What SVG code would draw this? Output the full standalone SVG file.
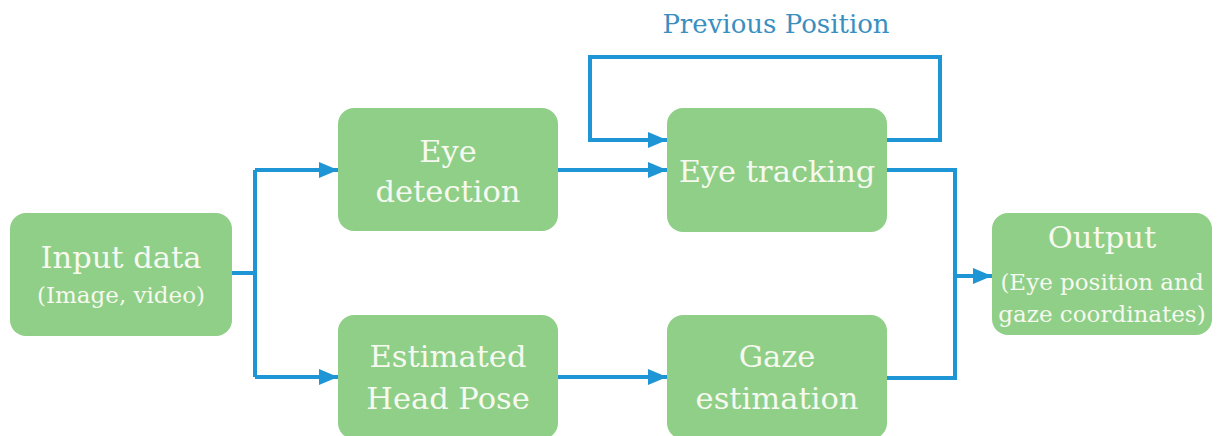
<svg xmlns="http://www.w3.org/2000/svg" width="1220" height="436" viewBox="0 0 1220 436">
  <style>
    .box { fill: #90cf87; }
    .lbl { font-family: "DejaVu Serif", "Liberation Serif", serif; fill: #f6f9f0; text-anchor: middle; }
    .big { font-size: 30.5px; }
    .small { font-size: 23px; }
    .wire { fill: none; stroke: #1e95d4; stroke-width: 4; stroke-linejoin: miter; }
    .note { font-family: "DejaVu Serif", "Liberation Serif", serif; font-size: 26px; fill: #3a8fc0; text-anchor: middle; }
  </style>
  <defs>
    <marker id="arrow" markerUnits="userSpaceOnUse" markerWidth="19" markerHeight="16" refX="19" refY="8" orient="auto">
      <path d="M0,0 L19,8 L0,16 z" fill="#1e95d4"/>
    </marker>
  </defs>
  <rect width="1220" height="436" fill="#ffffff"/>

  <g id="connectors">
    <!-- input splits to detection and head pose -->
    <path class="wire" d="M232,273 H255"/>
    <path class="wire" d="M255,170 V377"/>
    <path class="wire" d="M255,170 H338" marker-end="url(#arrow)"/>
    <path class="wire" d="M255,377 H338" marker-end="url(#arrow)"/>
    <!-- detection to tracking -->
    <path class="wire" d="M557,170 H667" marker-end="url(#arrow)"/>
    <!-- feedback loop: previous position -->
    <path class="wire" d="M887,140 H940 V57 H590 V140 H667" marker-end="url(#arrow)"/>
    <!-- head pose to gaze -->
    <path class="wire" d="M557,377 H667" marker-end="url(#arrow)"/>
    <!-- merge into output -->
    <path class="wire" d="M887,170 H955 V378 H887"/>
    <path class="wire" d="M955,276 H992" marker-end="url(#arrow)"/>
    <text class="note" x="776" y="33">Previous Position</text>
  </g>

  <g id="input-data">
    <rect class="box" x="10" y="213" width="222" height="123" rx="16"/>
    <text class="lbl big" x="121" y="268">Input data</text>
    <text class="lbl small" x="121" y="303">(Image, video)</text>
  </g>

  <g id="eye-detection">
    <rect class="box" x="338" y="108" width="220" height="123" rx="16"/>
    <text class="lbl big" x="448" y="162">Eye</text>
    <text class="lbl big" x="448" y="202">detection</text>
  </g>

  <g id="eye-tracking">
    <rect class="box" x="667" y="108" width="220" height="124" rx="16"/>
    <text class="lbl big" x="777" y="182">Eye tracking</text>
  </g>

  <g id="head-pose">
    <rect class="box" x="338" y="315" width="220" height="124" rx="16"/>
    <text class="lbl big" x="448" y="367">Estimated</text>
    <text class="lbl big" x="448" y="409">Head Pose</text>
  </g>

  <g id="gaze-estimation">
    <rect class="box" x="667" y="315" width="220" height="124" rx="16"/>
    <text class="lbl big" x="777" y="367">Gaze</text>
    <text class="lbl big" x="777" y="409">estimation</text>
  </g>

  <g id="output">
    <rect class="box" x="992" y="213" width="220" height="122" rx="16"/>
    <text class="lbl big" x="1102" y="248">Output</text>
    <text class="lbl small" x="1102" y="290">(Eye position and</text>
    <text class="lbl small" x="1102" y="322">gaze coordinates)</text>
  </g>
</svg>
